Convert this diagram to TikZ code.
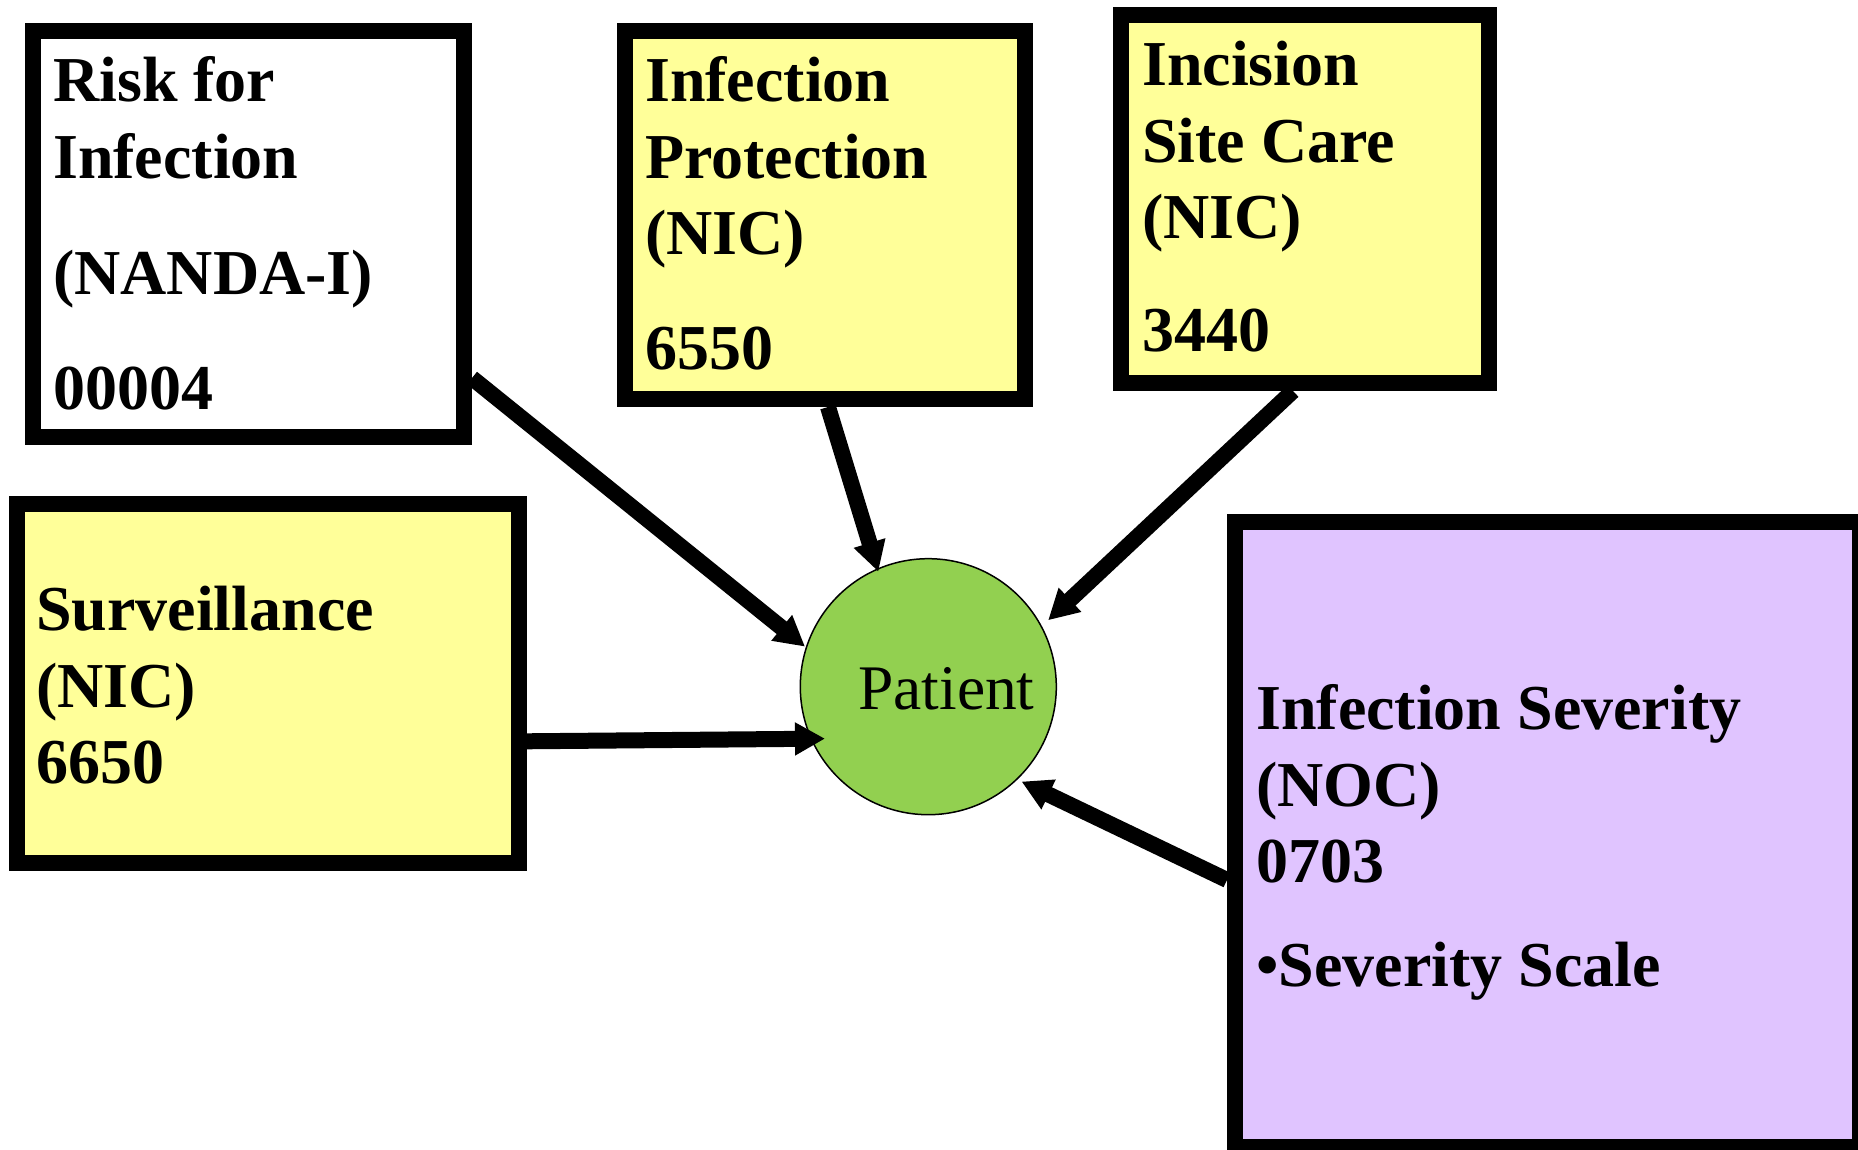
\documentclass[tikz,border=0pt]{standalone}
\usepackage{fontspec}
\setmainfont{Liberation Serif}
\usetikzlibrary{arrows.meta,calc}
\definecolor{boxyellow}{HTML}{FFFF99}
\definecolor{boxlilac}{HTML}{E0C4FF}
\definecolor{patientgreen}{HTML}{92D050}
\tikzset{
  card/.style={draw=black, line width=16pt, rectangle, inner sep=0pt},
  cardtext/.style={anchor=base west, inner sep=0pt, text width=620pt, align=flush left,
    font=\fontsize{64}{76.5}\selectfont\bfseries},
  link/.style={line width=16pt, -{Triangle[length=30pt,width=31pt]}},
}
\begin{document}
\begin{tikzpicture}[x=1pt,y=1pt]
  \useasboundingbox (0,0) rectangle (1858,1149);

  % boxes
  \node[card, fill=white, minimum width=431pt, minimum height=406pt] (risk) at (248.5,915) {};
  \node[card, fill=boxyellow, minimum width=400pt, minimum height=368pt] (prot) at (825,934) {};
  \node[card, fill=boxyellow, minimum width=368pt, minimum height=368pt] (inc) at (1305,950) {};
  \node[card, fill=boxyellow, minimum width=502.5pt, minimum height=359pt] (surv) at (267.75,465.5) {};
  \node[card, fill=boxlilac, minimum width=625pt, minimum height=625pt] (sev) at (1547.5,314.5) {};

  % box texts
  \node[cardtext] (risktext) at (53,1047) {Risk for\\Infection\\[39.5pt](NANDA-I)\\[38.5pt]00004};
  \node[cardtext] (prottext) at (645,1047) {Infection\\Protection\\(NIC)\\[38.5pt]6550};
  \node[cardtext] (inctext) at (1142,1063) {Incision\\Site Care\\(NIC)\\[36.5pt]3440};
  \node[cardtext] (survtext) at (36,518) {Surveillance\\(NIC)\\6650};
  \node[cardtext] (sevtext) at (1256,419) {Infection Severity\\(NOC)\\0703\\[27.5pt]•Severity Scale};

  % patient
  \node[circle, draw=black, line width=1.5pt, fill=patientgreen, minimum size=256pt, inner sep=0pt] (patient) at (928.3,462.3) {};
  \node[anchor=base west, inner sep=0pt, font=\fontsize{63.5}{76}\selectfont] (patientlabel) at (858,439) {Patient};

  % connectors
  \draw[link] ($(risk.south east)+(0,67)$) -- ($(patient.center)+(162:129.6)$);
  \draw[link] ($(prot.south)+(3,0)$) -- ($(patient.center)+(113.5:125.4)$);
  \draw[link] ($(inc.south)+(-12,0)$) -- ($(patient.center)+(29:137)$);
  \draw[link] ($(surv.east)+(0,-57.8)$) -- ($(patient.center)+(206.7:115.6)$);
  \draw[link] ($(sev.west)+(0,-45.5)$) -- ($(patient.center)+(-45.5:133)$);
\end{tikzpicture}
\end{document}
